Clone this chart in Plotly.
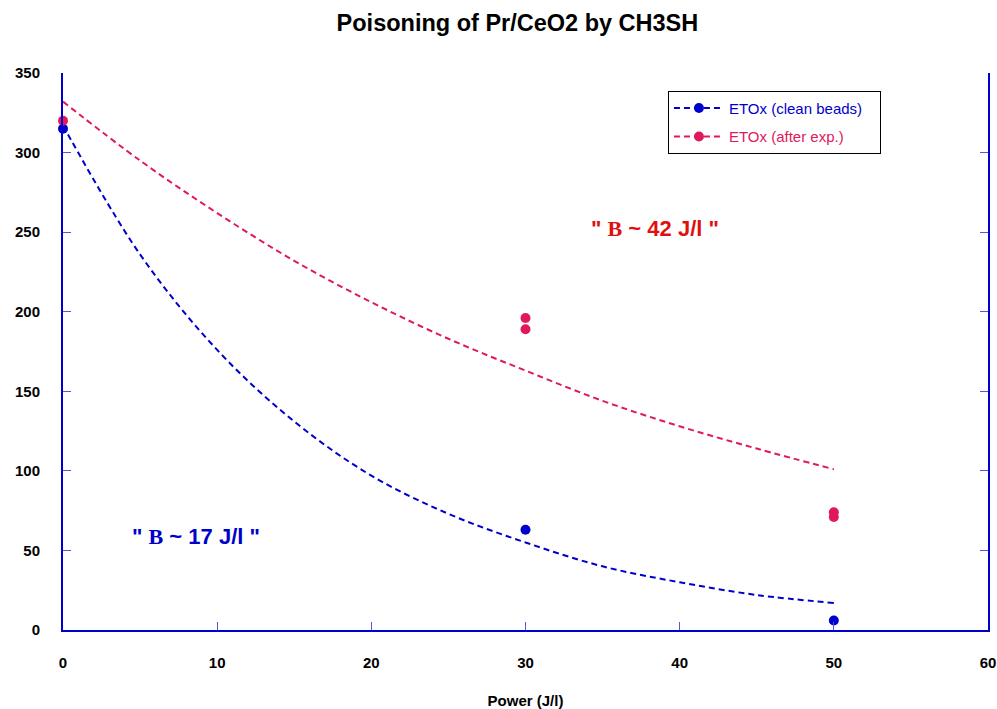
import plotly.graph_objects as go

# Measured points
clean_x = [0, 30, 50]
clean_y = [315, 63, 6]
after_x = [0, 30, 30, 50, 50]
after_y = [320, 196, 189, 74, 71]

# Fitted curves
fit_x = [0, 5, 10, 15, 20, 25, 30, 35, 40, 45, 50]
fit_clean_y = [317, 236, 176, 131, 97, 73, 55, 40, 30, 22, 17]
fit_after_y = [332, 295, 262, 232, 206, 183, 163, 144, 128, 114, 101]

x_ticks = [0, 10, 20, 30, 40, 50, 60]
y_ticks = [0, 50, 100, 150, 200, 250, 300, 350]

BLUE = "#0000CC"
RED = "#E0195A"
TXT_RED = "#E01010"
SANS = "Liberation Sans, Arial"
DASH = "6px,4px"

fig = go.Figure()
fig.add_trace(go.Scatter(x=fit_x, y=fit_clean_y, mode="lines", line=dict(color=BLUE, width=2, dash=DASH, shape="spline"), showlegend=False))
fig.add_trace(go.Scatter(x=fit_x, y=fit_after_y, mode="lines", line=dict(color=RED, width=2, dash=DASH, shape="spline"), showlegend=False))
fig.add_trace(go.Scatter(x=clean_x, y=clean_y, mode="markers", marker=dict(color=BLUE, size=10), showlegend=False, cliponaxis=False))
fig.add_trace(go.Scatter(x=after_x, y=after_y, mode="markers", marker=dict(color=RED, size=10), showlegend=False, cliponaxis=False))
fig.add_trace(go.Scatter(x=[None], y=[None], mode="lines+markers",
                         name='<span style="color:%s">ETOx (clean beads)</span>&nbsp;&nbsp;&nbsp;' % BLUE, legendgroup="a",
                         line=dict(color=BLUE, width=2, dash=DASH), marker=dict(color=BLUE, size=10)))
fig.add_trace(go.Scatter(x=[None], y=[None], mode="lines+markers",
                         name='<span style="color:%s">ETOx (after exp.)</span>' % RED, legendgroup="b",
                         line=dict(color=RED, width=2, dash=DASH), marker=dict(color=RED, size=10)))

fig.update_layout(
    width=997, height=709,
    margin=dict(l=63, r=9, t=73, b=79, autoexpand=False),
    plot_bgcolor="white", paper_bgcolor="white",
    font=dict(family=SANS, color="black"),
    title=dict(text="Poisoning of Pr/CeO2 by CH3SH", x=0.519, xanchor="center", y=0.968, yanchor="middle",
               font=dict(size=23.5, color="black", weight="bold")),
    legend=dict(x=0.654, y=0.968, xanchor="left", yanchor="top", bgcolor="white", bordercolor="black", borderwidth=1,
                font=dict(size=15), tracegroupgap=6, itemwidth=50),
    showlegend=True,
)
fig.update_xaxes(range=[0, 60], tickvals=x_ticks, showgrid=False, zeroline=False, automargin=False,
                 showline=True, linecolor=BLUE, linewidth=2, ticks="inside", ticklen=8, tickcolor="#5555DD", tickwidth=1,
                 tickfont=dict(size=15, color="black", weight="bold"),
                 ticklabelstandoff=18,
                 title=dict(text="Power (J/l)", font=dict(size=15, weight="bold"), standoff=27))
fig.update_yaxes(range=[0, 350], tickvals=y_ticks, showgrid=False, zeroline=False, automargin=False,
                 showline=True, linecolor=BLUE, linewidth=2, mirror="ticks", ticks="inside", ticklen=8, tickcolor="#5555DD", tickwidth=1,
                 tickfont=dict(size=15, color="black", weight="bold"), ticklabelstandoff=18)

fig.add_annotation(x=38.4, y=252, text='" <span style="font-family:Liberation Serif">B</span><span style="font-family:Liberation Sans"> ~ 42 J/l "</span>',
                   showarrow=False, font=dict(size=22, color=TXT_RED, weight="bold", family=SANS))
fig.add_annotation(x=8.6, y=59, text='" <span style="font-family:Liberation Serif">B</span><span style="font-family:Liberation Sans"> ~ 17 J/l "</span>',
                   showarrow=False, font=dict(size=22, color=BLUE, weight="bold", family=SANS))

fig.write_html("out.html")
